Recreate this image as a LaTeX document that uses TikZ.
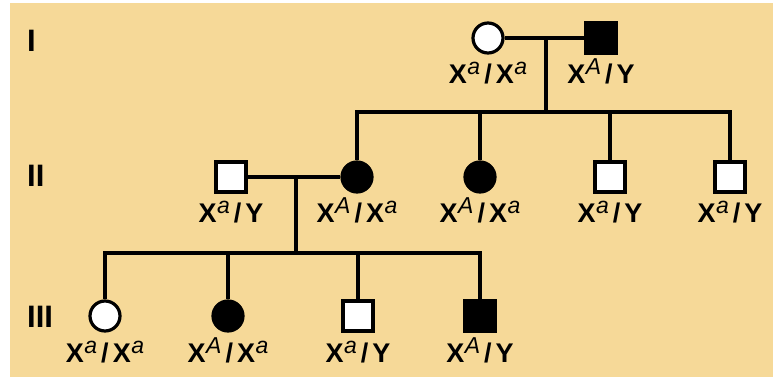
\documentclass[tikz,border=0pt]{standalone}
\usepackage{fontspec}
\setmainfont{Liberation Sans}
\usetikzlibrary{calc}
\definecolor{panel}{RGB}{246,217,152}
\newcommand\Xsup[1]{X\kern0.5pt\raisebox{9pt}{\fontsize{23}{23}\selectfont\mdseries\itshape #1}}
\newcommand\geno[2]{\Xsup{#1}\kern4pt/\kern4pt#2}
\tikzset{
  person/.style={draw=black, line width=3.2pt, minimum size=30pt, inner sep=0pt},
  male/.style={person, rectangle, fill=white},
  female/.style={person, circle, fill=white},
  affm/.style={male, fill=black},
  afff/.style={female, fill=black},
  lbl/.style={font=\fontsize{27}{27}\selectfont\bfseries, inner sep=0pt, anchor=base},
  genlbl/.style={font=\fontsize{31}{31}\selectfont\bfseries, inner sep=0pt, anchor=base west},
  link/.style={line width=3.2pt}
}
\begin{document}
\begin{tikzpicture}[x=1pt,y=-1pt]
\useasboundingbox (0,0) rectangle (779,381);
\fill[panel] (10,3) rectangle (773,377);

% generation labels
\node[genlbl] (gI) at (27,51) {I};
\node[genlbl] (gII) at (27,186) {II};
\node[genlbl] (gIII) at (27,327) {III};

% connectors' coordinates
\coordinate (m1) at (546,38);
\coordinate (s1) at (546,112);
\coordinate (m2) at (296,177);
\coordinate (s2) at (296,253);

% generation I
\node[female] (i1) at (488,38) {};
\node[affm] (i2) at (601,38) {};
% generation II
\node[male] (ii1) at (231,177) {};
\node[afff] (ii2) at (357,177) {};
\node[afff] (ii3) at (480,177) {};
\node[male] (ii4) at (610,177) {};
\node[male] (ii5) at (730,177) {};
% generation III
\node[female] (iii1) at (105,316) {};
\node[afff] (iii2) at (228,316) {};
\node[male] (iii3) at (358,316) {};
\node[affm] (iii4) at (480,316) {};

\draw[link] (i1) -- (i2);
\draw[link] (m1) -- (s1);
\draw[link] (ii2.north) -- (ii2.north |- s1) -- (ii5.north |- s1) -- (ii5.north);
\draw[link] (ii3.north) -- (ii3.north |- s1);
\draw[link] (ii4.north) -- (ii4.north |- s1);
\draw[link] (ii1) -- (ii2);
\draw[link] (m2) -- (s2);
\draw[link] (iii1.north) -- (iii1.north |- s2) -- (iii4.north |- s2) -- (iii4.north);
\draw[link] (iii2.north) -- (iii2.north |- s2);
\draw[link] (iii3.north) -- (iii3.north |- s2);

% genotype labels
\node[lbl] (li1) at ($(i1)+(0,45)$) {\geno{a}{\Xsup{a}}};
\node[lbl] (li2) at ($(i2)+(0,45)$) {\geno{A}{Y}};
\node[lbl] (lii1) at ($(ii1)+(0,45)$) {\geno{a}{Y}};
\node[lbl] (lii2) at ($(ii2)+(0,45)$) {\geno{A}{\Xsup{a}}};
\node[lbl] (lii3) at ($(ii3)+(0,45)$) {\geno{A}{\Xsup{a}}};
\node[lbl] (lii4) at ($(ii4)+(0,45)$) {\geno{a}{Y}};
\node[lbl] (lii5) at ($(ii5)+(0,45)$) {\geno{a}{Y}};
\node[lbl] (liii1) at ($(iii1)+(0,46)$) {\geno{a}{\Xsup{a}}};
\node[lbl] (liii2) at ($(iii2)+(0,46)$) {\geno{A}{\Xsup{a}}};
\node[lbl] (liii3) at ($(iii3)+(0,46)$) {\geno{a}{Y}};
\node[lbl] (liii4) at ($(iii4)+(0,46)$) {\geno{A}{Y}};
\end{tikzpicture}
\end{document}
